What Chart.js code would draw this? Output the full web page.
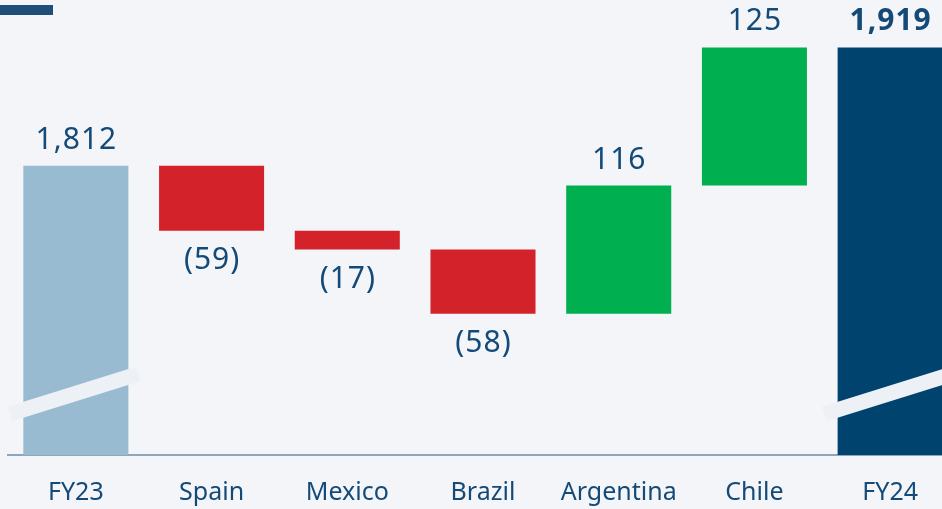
<!DOCTYPE html>
<html>
<head>
<meta charset="utf-8">
<script src="https://cdn.jsdelivr.net/npm/chart.js@4"></script>
<style>
  html, body { margin:0; padding:0; background:#f4f5f8; overflow:hidden; width:942px; height:509px; }
  #wrap { position:relative; width:958px; height:509px; overflow:hidden; }
  #mark { position:absolute; left:0; top:5px; width:53px; height:10px; background:#1f4e79; }
  canvas { display:block; }
</style>
</head>
<body>
<div id="wrap">
  <canvas id="c" width="958" height="535"></canvas>
  <div id="mark"></div>
</div>
<script>
const categories = ['FY23', 'Spain', 'Mexico', 'Brazil', 'Argentina', 'Chile', 'FY24'];
const startValue = 1812;
const deltas = [-59, -17, -58, 116, 125];
const endValue = 1919;
const axisMin = 1550;
const axisMax = 1962;

// Build floating ranges from the values
const ranges = [];
const colors = [];
const labelTexts = [];
const isNeg = [];
ranges.push([axisMin, startValue]);
colors.push('#99bbd2');
labelTexts.push(startValue.toLocaleString('en-US'));
isNeg.push(false);
let run = startValue;
deltas.forEach(d => {
  const next = run + d;
  ranges.push([Math.min(run, next), Math.max(run, next)]);
  colors.push(d < 0 ? '#d4222a' : '#00af50');
  labelTexts.push(d < 0 ? '(' + Math.abs(d) + ')' : String(d));
  isNeg.push(d < 0);
  run = next;
});
ranges.push([axisMin, endValue]);
colors.push('#00436e');
labelTexts.push(endValue.toLocaleString('en-US'));
isNeg.push(false);

const breakPlugin = {
  id: 'breaks',
  afterDatasetsDraw(chart) {
    const ctx = chart.ctx;
    const meta = chart.getDatasetMeta(0);
    const b = chart.chartArea.bottom;
    ctx.save();
    [0, categories.length - 1].forEach(i => {
      const el = meta.data[i];
      ctx.beginPath();
      ctx.moveTo(el.x - 66, b - 41);
      ctx.lineTo(el.x + 62, b - 81);
      ctx.lineWidth = 15;
      ctx.strokeStyle = '#edf1f6';
      ctx.lineCap = 'butt';
      ctx.stroke();
    });
    ctx.restore();
  }
};

const labelPlugin = {
  id: 'vlabels',
  afterDraw(chart) {
    const ctx = chart.ctx;
    const meta = chart.getDatasetMeta(0);
    ctx.save();
    ctx.fillStyle = '#144a78';
    ctx.textAlign = 'center';
    ctx.textBaseline = 'alphabetic';
    meta.data.forEach((el, i) => {
      const last = i === categories.length - 1;
      ctx.font = (last ? 'bold ' : '') + '30px "Noto Sans"';
      try { ctx.letterSpacing = '1px'; } catch (e) {}
      const top = Math.min(el.y, el.base);
      const bot = Math.max(el.y, el.base);
      const y = isNeg[i] ? bot + 38 : top - 17;
      ctx.fillText(labelTexts[i], el.x + 0.5, y);
    });
    ctx.restore();
  }
};

new Chart(document.getElementById('c'), {
  type: 'bar',
  data: {
    labels: categories,
    datasets: [{
      data: ranges,
      backgroundColor: colors,
      borderWidth: 0,
      barPercentage: 0.774,
      categoryPercentage: 1.0
    }]
  },
  options: {
    responsive: false,
    animation: false,
    devicePixelRatio: 1,
    layout: { padding: { left: 8, right: 0, top: 0, bottom: 4 } },
    plugins: { legend: { display: false }, tooltip: { enabled: false } },
    scales: {
      x: {
        grid: { display: false, drawTicks: false },
        border: { display: true, color: '#8ea6bb', width: 2 },
        ticks: { color: '#144a78', font: { family: 'Noto Sans', size: 25 }, padding: 23, maxRotation: 0 }
      },
      y: {
        display: false,
        min: axisMin,
        max: axisMax
      }
    }
  },
  plugins: [breakPlugin, labelPlugin]
});
</script>
</body>
</html>
